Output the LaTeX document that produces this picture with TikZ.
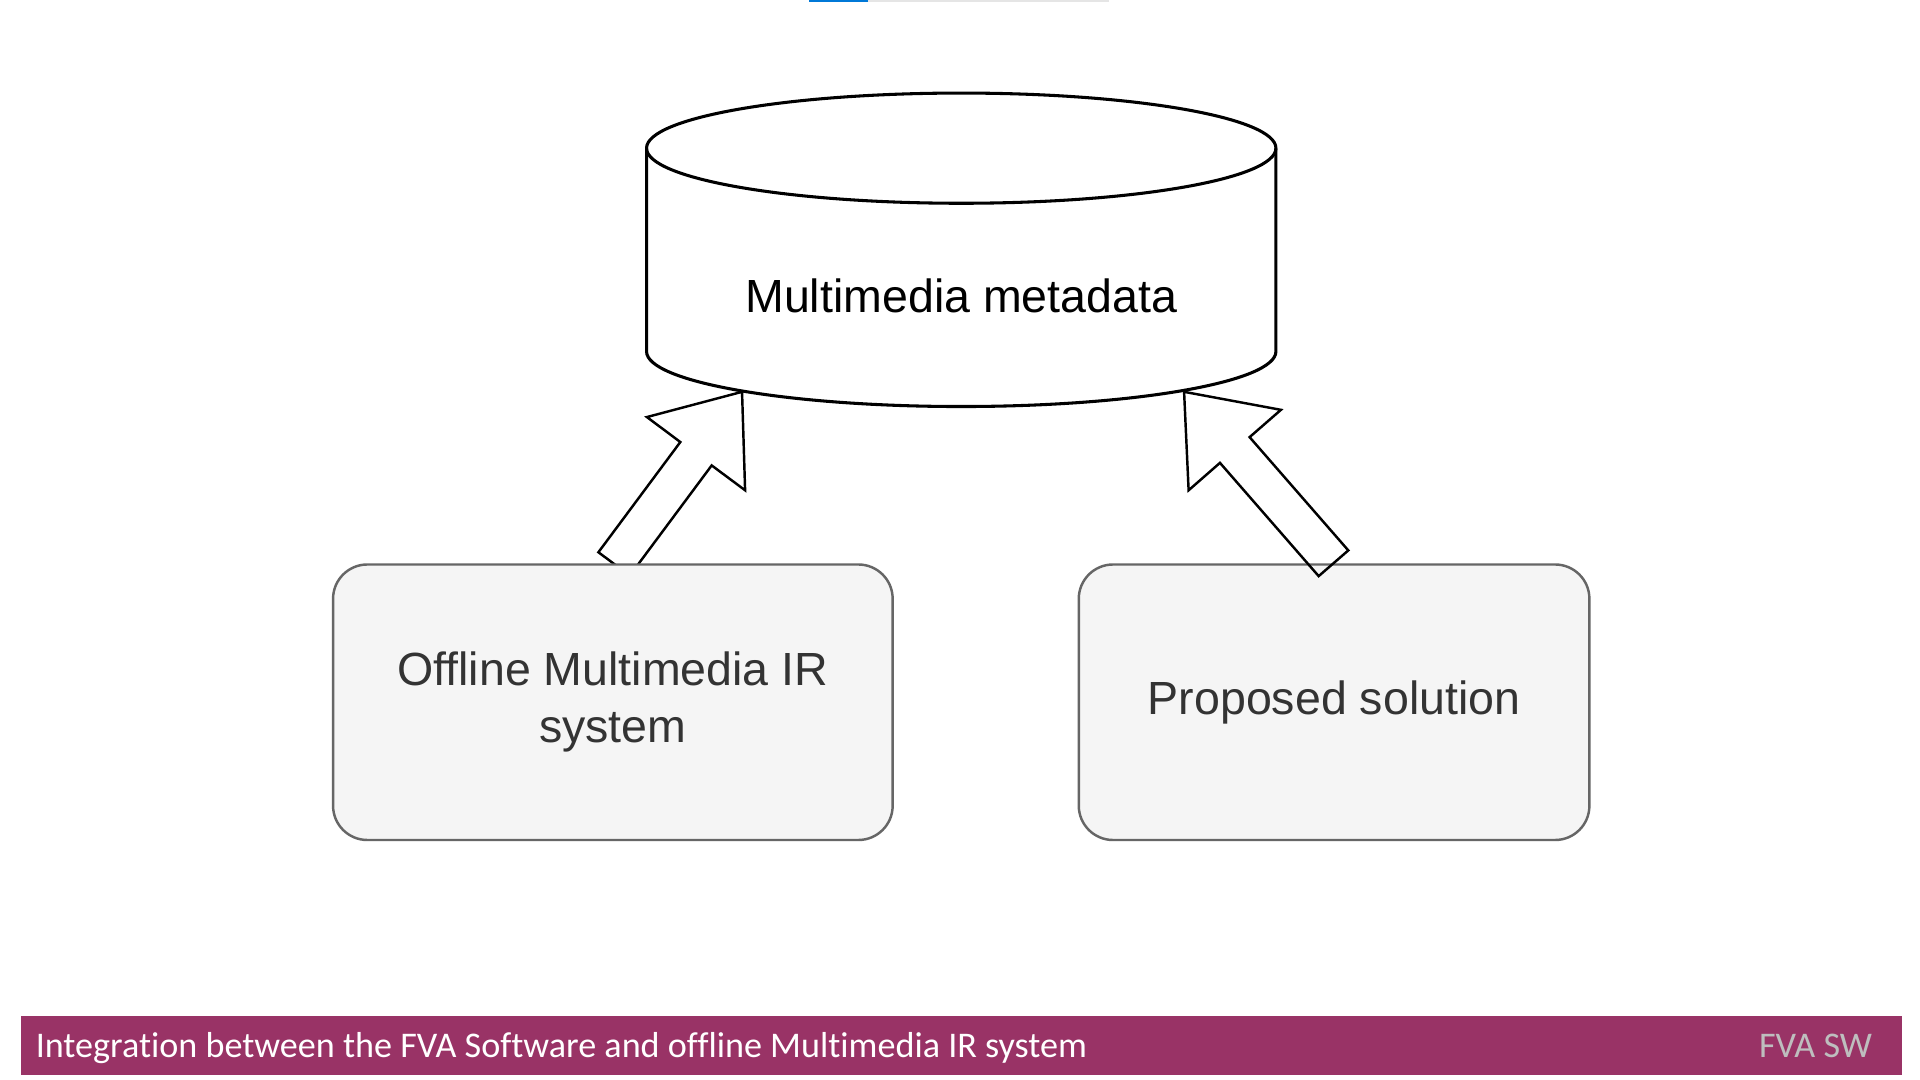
\documentclass[tikz,border=0pt]{standalone}
\usepackage{fontspec}
\setmainfont{Liberation Sans}
\newfontfamily\footfont[Ligatures=NoCommon]{Carlito}
\definecolor{barpurple}{RGB}{153,51,102}
\definecolor{boxfill}{RGB}{245,245,245}
\definecolor{boxline}{RGB}{102,102,102}
\definecolor{boxtext}{RGB}{51,51,51}
\definecolor{tabblue}{RGB}{0,120,215}
\definecolor{tabgray}{RGB}{229,229,229}
\definecolor{footgray}{RGB}{190,190,190}
\begin{document}
\begin{tikzpicture}[x=1pt,y=-1pt,
	box/.style={draw=boxline, fill=boxfill, line width=2pt, rounded corners=28pt, align=center, text=boxtext, minimum height=225pt, inner sep=0pt, font=\fontsize{38}{46.5}\selectfont},
	flow/.style={draw=black, line width=2pt, line join=miter}]
		\useasboundingbox (0,0) rectangle (1568,882);
		\fill [white] (0,0) rectangle (1568,882);
		\fill [tabblue] (661,0) rectangle (709,2);
		\fill [tabgray] (709,0) rectangle (906,2);
		\coordinate (La) at (488.7,451);
		\coordinate (Lb) at (555.6,361);
		\coordinate (Lc) at (528.3,340.6);
		\coordinate (Lt) at (606,320);
		\coordinate (Ld) at (608.5,400.4);
		\coordinate (Le) at (581.2,380.1);
		\coordinate (Lf) at (514.3,470.1);
		\coordinate (Ra) at (1101.1,449.5);
		\coordinate (Rb) at (1020.5,357);
		\coordinate (Rc) at (1046.1,334.7);
		\coordinate (Rt) at (967,320);
		\coordinate (Rd) at (970.7,400.4);
		\coordinate (Re) at (996.3,378);
		\coordinate (Rf) at (1076.9,470.5);
		\draw [line width=2.5pt, fill=white] (528,121) -- (528,287) arc[start angle=180, end angle=360, x radius=257pt, y radius=45pt] -- (1042,121) arc[start angle=0, end angle=180, x radius=257pt, y radius=45pt];
		\draw [line width=2.5pt] (528,121) arc[start angle=180, end angle=360, x radius=257pt, y radius=45pt];
		\node [anchor=base, font=\fontsize{38}{46.5}\selectfont] (meta) at (785,255) {Multimedia metadata};
		\draw [flow, fill=white] (La) -- (Lb) -- (Lc) -- (Lt) -- (Ld) -- (Le) -- (Lf) -- cycle;
		\node [box, minimum width=457pt] (offline) at (500.5,573.5) {Offline Multimedia IR\\system};
		\node [box, minimum width=417pt] (proposed) at (1089.5,573.5) {Proposed solution};
		\draw [flow] (Ra) -- (Rb) -- (Rc) -- (Rt) -- (Rd) -- (Re) -- (Rf) -- cycle;
		\fill [barpurple] (17,830) rectangle (1553,878);
		\node [anchor=base west, inner sep=0pt, text=white, font=\footfont\fontsize{29.5}{31}\selectfont] (title) at (29,864) {Integration between the FVA Software and offline Multimedia IR system};
		\node [anchor=base east, inner sep=0pt, text=footgray, font=\footfont\fontsize{29.5}{31}\selectfont] (tag) at (1529,864) {FVA SW};
	\end{tikzpicture}
\end{document}
